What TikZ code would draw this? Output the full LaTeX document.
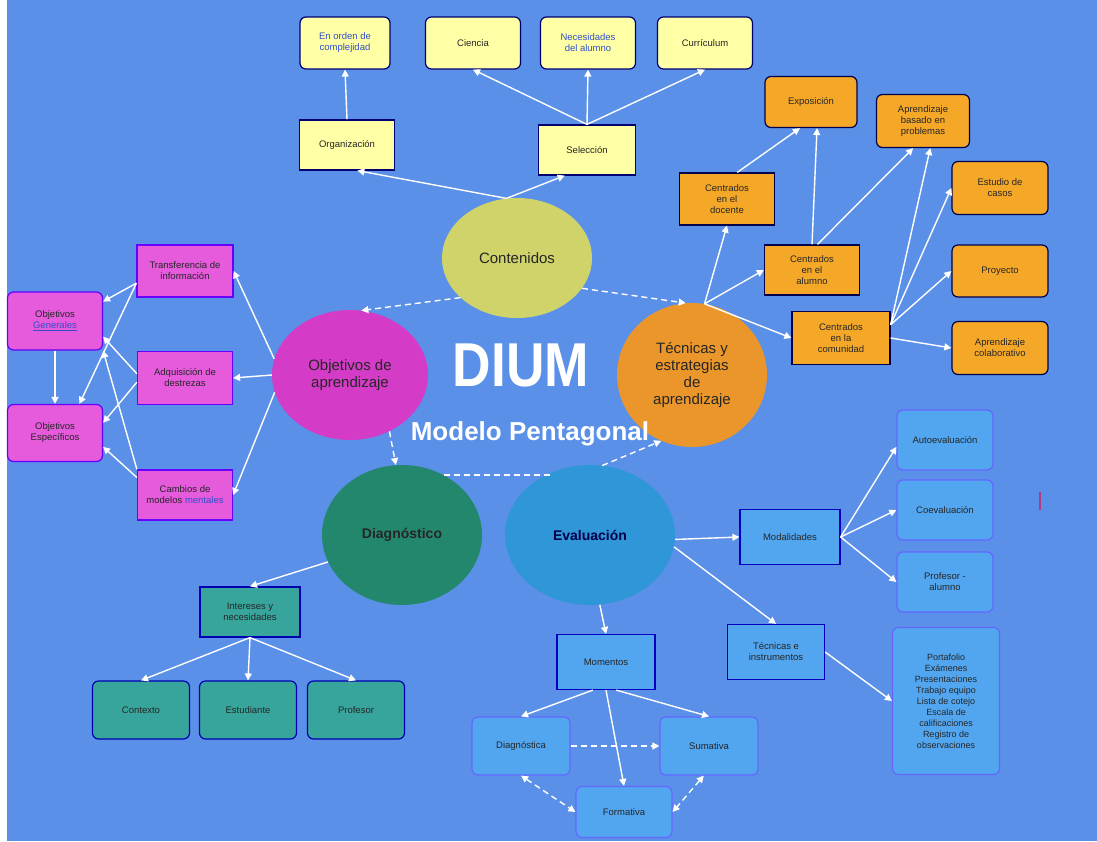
\documentclass[tikz,border=0pt]{standalone}
\usepackage{fontspec}
\setmainfont{Liberation Sans}
\usetikzlibrary{shapes.geometric,arrows.meta}

\definecolor{bgblue}{HTML}{5A90E8}
\definecolor{yfill}{HTML}{FFFFA6}
\definecolor{ofill}{HTML}{F5A828}
\definecolor{pfill}{HTML}{E65ADC}
\definecolor{tfill}{HTML}{37A59B}
\definecolor{bfill}{HTML}{52A6F0}
\definecolor{ylink}{HTML}{3050C8}
\definecolor{ellY}{HTML}{CFD36A}
\definecolor{ellP}{HTML}{D43CC8}
\definecolor{ellO}{HTML}{EB962A}
\definecolor{ellT}{HTML}{23876E}
\definecolor{ellB}{HTML}{2F96D8}

\tikzset{
  box/.style={draw=#1, line width=1.2pt, align=center, text=black!85,
    font=\fontsize{9.5}{11}\selectfont, minimum width=95pt, minimum height=52pt,
    inner sep=2pt},
  sq/.style={box=#1},
  rd/.style={box=#1, rounded corners=6pt},
  blob/.style={ellipse, draw=none, align=center, text=black!85,
    font=\fontsize{15}{17}\selectfont, inner sep=0pt},
  arr/.style={draw=white, line width=1.4pt, -{Triangle[width=7pt,length=7pt]}},
  dsh/.style={arr, dash pattern=on 6pt off 4pt},
  dshtwo/.style={dsh, {Triangle[width=7pt,length=7pt]}-{Triangle[width=7pt,length=7pt]}},
  dshplain/.style={draw=white, line width=1.4pt, dash pattern=on 6pt off 4pt},
}

\begin{document}
\begin{tikzpicture}[x=1pt,y=-1pt]
\useasboundingbox (0,0) rectangle (1097,841);
\fill[white] (0,0) rectangle (1097,841);
\fill[bgblue] (7,0) rectangle (1097,841);

% the five components
\node[blob, fill=ellY, minimum width=150pt, minimum height=120pt] (cont) at (517,258) {Contenidos};
\node[blob, fill=ellP, minimum width=156pt, minimum height=130pt] (obj) at (350,375) {Objetivos de\\aprendizaje};
\node[blob, fill=ellO, minimum width=150pt, minimum height=144pt] (tec) at (692,375) {Técnicas y\\estrategias\\de\\aprendizaje};
\node[blob, fill=ellT, minimum width=160pt, minimum height=140pt, font=\bfseries\fontsize{14}{16}\selectfont] (diag) at (402,535) {Diagnóstico};
\node[blob, fill=ellB, minimum width=170pt, minimum height=140pt, font=\bfseries\fontsize{14}{16}\selectfont, text=blue!30!black] (eval) at (590,535) {Evaluación};

% central title
\node[text=white, font=\bfseries\fontsize{62}{62}\selectfont, xscale=0.86] (dium) at (521,365) {DIUM};
\node[text=white, font=\bfseries\fontsize{26}{26}\selectfont] (modelo) at (530,434) {Modelo Pentagonal};

% contents
\node[rd=blue!45!black, fill=yfill, minimum width=90pt, text=ylink] (orden) at (345,43) {En orden de\\complejidad};
\node[rd=blue!45!black, fill=yfill] (cien) at (473,43) {Ciencia};
\node[rd=blue!45!black, fill=yfill, text=ylink] (nec) at (588,43) {Necesidades\\del alumno};
\node[rd=blue!45!black, fill=yfill] (curr) at (705,43) {Currículum};
\node[sq=blue!45!black, fill=yfill, minimum height=50pt] (org) at (347,145) {Organización};
\node[sq=blue!45!black, fill=yfill, minimum height=50pt, minimum width=97pt] (sel) at (587,150) {Selección};

% techniques
\node[rd=blue!30!black, fill=ofill, minimum width=92pt, minimum height=51pt] (exp) at (811,102) {Exposición};
\node[rd=blue!30!black, fill=ofill, minimum width=93pt, minimum height=53pt] (abp) at (923,121) {Aprendizaje\\basado en\\problemas};
\node[sq=blue!30!black, fill=ofill, minimum height=52pt] (doc) at (727,199) {Centrados\\en el\\docente};
\node[sq=blue!30!black, fill=ofill, minimum height=50pt] (alu) at (812,270) {Centrados\\en el\\alumno};
\node[sq=blue!30!black, fill=ofill, minimum width=98pt, minimum height=53pt] (com) at (841,338) {Centrados\\en la\\comunidad};
\node[rd=blue!30!black, fill=ofill, minimum width=96pt, minimum height=53pt] (est) at (1000,188) {Estudio de\\casos};
\node[rd=blue!30!black, fill=ofill, minimum width=96pt, minimum height=52pt] (proy) at (1000,271) {Proyecto};
\node[rd=blue!30!black, fill=ofill, minimum width=96pt, minimum height=53pt] (col) at (1000,348) {Aprendizaje\\colaborativo};

% objectives
\node[sq=blue!60!magenta, fill=pfill, minimum width=96pt] (trans) at (185,271) {Transferencia de\\información};
\node[sq=blue!60!magenta, fill=pfill, minimum width=95pt, minimum height=53pt] (adq) at (185,378) {Adquisición de\\destrezas};
\node[sq=blue!60!magenta, fill=pfill, minimum width=95pt, minimum height=50pt] (camb) at (185,495) {Cambios de\\modelos \textcolor{ylink}{mentales}};
\node[rd=blue!60!magenta, fill=pfill, minimum width=95pt, minimum height=58pt] (gen) at (55,321) {Objetivos\\\textcolor{ylink}{\underline{Generales}}};
\node[rd=blue!60!magenta, fill=pfill, minimum width=95pt, minimum height=57pt] (esp) at (55,433) {Objetivos\\Específicos};

% diagnosis
\node[sq=blue!70!black, fill=tfill, minimum width=100pt, minimum height=50pt] (int) at (250,612) {Intereses y\\necesidades};
\node[rd=blue!70!black, fill=tfill, minimum width=97pt, minimum height=58pt] (ctx) at (141,710) {Contexto};
\node[rd=blue!70!black, fill=tfill, minimum width=97pt, minimum height=58pt] (estu) at (248,710) {Estudiante};
\node[rd=blue!70!black, fill=tfill, minimum width=97pt, minimum height=58pt] (prof) at (356,710) {Profesor};

% evaluation
\node[sq=blue!75!black, fill=bfill, minimum width=100pt, minimum height=55pt] (mod) at (790,537) {Modalidades};
\node[rd=blue!60, fill=bfill, minimum width=96pt, minimum height=60pt] (auto) at (945,440) {Autoevaluación};
\node[rd=blue!60, fill=bfill, minimum width=96pt, minimum height=60pt] (coev) at (945,510) {Coevaluación};
\node[rd=blue!60, fill=bfill, minimum width=96pt, minimum height=60pt] (pa) at (945,582) {Profesor -\\alumno};
\node[sq=blue!75!black, fill=bfill, minimum width=97pt, minimum height=55pt] (tei) at (776,652) {Técnicas e\\instrumentos};
\node[rd=blue!60, fill=bfill, minimum width=107pt, minimum height=147pt, font=\fontsize{9}{11}\selectfont] (port) at (946,701) {Portafolio\\Exámenes\\Presentaciones\\Trabajo equipo\\Lista de cotejo\\Escala de\\calificaciones\\Registro de\\observaciones};
\node[sq=blue!75!black, fill=bfill, minimum width=98pt, minimum height=55pt] (mom) at (606,662) {Momentos};
\node[rd=blue!60, fill=bfill, minimum width=98pt, minimum height=58pt] (dca) at (521,746) {Diagnóstica};
\node[rd=blue!60, fill=bfill, minimum width=98pt, minimum height=58pt] (sum) at (709,746) {Sumativa};
\node[rd=blue!60, fill=bfill, minimum width=96pt, minimum height=51pt] (form) at (624,812) {Formativa};

% pentagon links
\draw[dsh] (cont.215) -- (obj.80);
\draw[dsh] (cont.-25) -- (tec.95);
\draw[dsh] (obj.-55) -- (diag.95);
\draw[dshplain] (diag.55) -- (diag.55 -| eval.122);
\draw[dsh] (eval.80) -- (tec.-115);

% contents links
\draw[arr] (cont.100) -- (org.-68);
\draw[arr] (cont.100) -- (sel.-131);
\draw[arr] (org.north) -- (orden.south);
\draw[arr] (sel.north) -- (cien.south);
\draw[arr] (sel.north) -- (nec.south);
\draw[arr] (sel.north) -- (curr.south);

% techniques links
\draw[arr] (tec.80) -- (doc.south);
\draw[arr] (tec.80) -- (alu.west);
\draw[arr] (tec.80) -- (com.west);
\draw[arr] (doc.69) -- (exp.-113);
\draw[arr] (alu.north) -- (exp.-77);
\draw[arr] (alu.78) -- (abp.-110);
\draw[arr] (com.15) -- (abp.-75);
\draw[arr] (com.15) -- (est.west);
\draw[arr] (com.15) -- (proy.west);
\draw[arr] (com.east) -- (col.west);

% objectives links
\draw[arr] (obj.168) -- (trans.east);
\draw[arr] (obj.180) -- (adq.east);
\draw[arr] (obj.193) -- (camb.east);
\draw[arr] (trans.194) -- (gen.22);
\draw[arr] (trans.194) -- (esp.50);
\draw[arr] (adq.175) -- (gen.-18);
\draw[arr] (adq.185) -- (esp.12);
\draw[arr] (camb.north west) -- (gen.south east);
\draw[arr] (camb.160) -- (esp.-16);
\draw[arr] (gen.south) -- (esp.north);

% diagnosis links
\draw[arr] (diag.200) -- (int.north);
\draw[arr] (int.south) -- (ctx.north);
\draw[arr] (int.south) -- (estu.north);
\draw[arr] (int.south) -- (prof.north);

% evaluation links
\draw[arr] (eval.-3) -- (mod.west);
\draw[arr] (eval.-8) -- (tei.north);
\draw[arr] (eval.-82) -- (mom.north);
\draw[arr] (mod.east) -- (auto.188);
\draw[arr] (mod.east) -- (coev.west);
\draw[arr] (mod.east) -- (pa.west);
\draw[arr] (tei.east) -- (port.west);
\draw[arr] (mom.-115) -- (dca.north);
\draw[arr] (mom.-70) -- (sum.north);
\draw[arr] (mom.south) -- (form.north);
\draw[dsh] (dca.east) -- (sum.west);
\draw[dshtwo] (dca.south) -- (form.west);
\draw[dshtwo] (sum.-100) -- (form.east);

% small mark at the right edge
\draw[magenta!70!black, line width=1.5pt] (1040,492) -- (1040,510);
\end{tikzpicture}
\end{document}
